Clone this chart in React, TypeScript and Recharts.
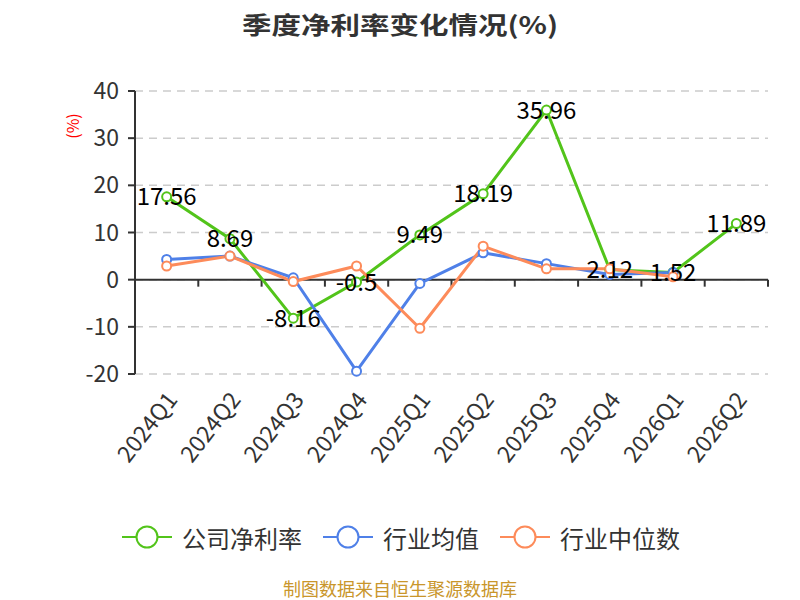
import { LineChart, Line, XAxis, YAxis, CartesianGrid, ReferenceLine, LabelList } from 'recharts';

// Quarterly net margin (%)
const quarters = ['2024Q1', '2024Q2', '2024Q3', '2024Q4', '2025Q1', '2025Q2', '2025Q3', '2025Q4', '2026Q1', '2026Q2'];
const companyMargin = [17.56, 8.69, -8.16, -0.5, 9.49, 18.19, 35.96, 2.12, 1.52, 11.89];
const industryAvg = [4.3, 5.0, 0.4, -19.4, -0.8, 5.7, 3.4, 1.1, 1.5, null];
const industryMedian = [2.9, 5.0, -0.4, 2.9, -10.3, 7.1, 2.3, 2.3, 0.6, null];
const yTicks = [-20, -10, 0, 10, 20, 30, 40];

const data = quarters.map((q, i) => ({
  q,
  company: companyMargin[i],
  avg: industryAvg[i],
  median: industryMedian[i],
}));

const GREEN = '#52c41a';
const BLUE = '#4f80e8';
const ORANGE = '#fd8b5a';
const FONT = '"Noto Sans CJK SC", "Noto Sans", sans-serif';

const legendItems = [
  { name: '公司净利率', color: GREEN },
  { name: '行业均值', color: BLUE },
  { name: '行业中位数', color: ORANGE },
];

function XTick({ x, y, payload }: any) {
  const ty = y + 12;
  return (
    <text
      x={x + 4}
      y={ty}
      transform={`rotate(-52, ${x + 4}, ${ty})`}
      textAnchor="end"
      dominantBaseline="central"
      fontSize={23}
      fill="#333"
      fontFamily={FONT}
    >
      {payload.value}
    </text>
  );
}

// zero line with the category ticks hanging below it
function ZeroAxis({ x1, y1, x2 }: any) {
  const step = (x2 - x1) / quarters.length;
  return (
    <g>
      <line x1={x1} y1={y1} x2={x2} y2={y1} stroke="#333" strokeWidth={2} />
      {quarters.map((_, i) => (
        <line key={i} x1={x1 + step * (i + 1)} y1={y1} x2={x1 + step * (i + 1)} y2={y1 + 7} stroke="#333" strokeWidth={2} />
      ))}
    </g>
  );
}

function PointLabel({ x, y, value }: any) {
  return (
    <text x={x} y={y - 2} textAnchor="middle" dominantBaseline="central" fontSize={24} fill="#000" fontFamily={FONT}>
      {value}
    </text>
  );
}

const dot = (color: string) => ({ r: 4.5, fill: '#fff', stroke: color, strokeWidth: 2 });

export default function App() {
  return (
    <div style={{ position: 'absolute', left: 0, top: 0, width: 800, height: 600, background: '#fff', fontFamily: FONT }}>
      <div
        style={{
          position: 'absolute',
          top: 2,
          width: 800,
          textAlign: 'center',
          fontSize: 29.5,
          fontWeight: 'bold',
          color: '#333',
          whiteSpace: 'nowrap',
          transform: 'scaleY(0.82)',
        }}
      >
        季度净利率变化情况(%)
      </div>
      <div
        style={{
          position: 'absolute',
          left: 72,
          top: 126,
          transform: 'translate(-50%, -50%) rotate(-90deg)',
          color: 'red',
          fontSize: 16,
        }}
      >
        (%)
      </div>
      <LineChart width={800} height={600} data={data} margin={{ top: 91, right: 32, bottom: 0, left: 0 }}>
        <CartesianGrid vertical={false} stroke="#ccc" strokeDasharray="8 6" strokeWidth={1.5} />
        <XAxis dataKey="q" scale="band" height={226} axisLine={false} tickLine={false} interval={0} tick={<XTick />} />
        <YAxis
          width={135}
          domain={[-20, 40]}
          ticks={yTicks}
          interval={0}
          stroke="#333"
          axisLine={{ stroke: '#333', strokeWidth: 2 }}
          tickLine={{ stroke: '#333', strokeWidth: 2 }}
          tickSize={7}
          tickMargin={9}
          tick={{ fontSize: 23, fill: '#333', fontFamily: FONT }}
        />
        <ReferenceLine y={0} shape={<ZeroAxis />} />
        <Line dataKey="company" stroke={GREEN} strokeWidth={3} dot={dot(GREEN)} isAnimationActive={false}>
          <LabelList dataKey="company" content={<PointLabel />} />
        </Line>
        <Line dataKey="avg" stroke={BLUE} strokeWidth={3} dot={dot(BLUE)} isAnimationActive={false} />
        <Line dataKey="median" stroke={ORANGE} strokeWidth={3} dot={dot(ORANGE)} isAnimationActive={false} />
      </LineChart>
      <div style={{ position: 'absolute', top: 520, left: 122, display: 'flex', gap: 21, whiteSpace: 'nowrap' }}>
        {legendItems.map((it) => (
          <div key={it.name} style={{ display: 'flex', alignItems: 'center', fontSize: 24, color: '#333', height: 34 }}>
            <svg width={50} height={26} style={{ marginRight: 10 }}>
              <line x1={0} y1={13} x2={50} y2={13} stroke={it.color} strokeWidth={2} />
              <circle cx={25} cy={13} r={10.5} fill="#fff" stroke={it.color} strokeWidth={2} />
            </svg>
            {it.name}
          </div>
        ))}
      </div>
      <div style={{ position: 'absolute', top: 575, width: 800, textAlign: 'center', fontSize: 18, color: '#c9962b', whiteSpace: 'nowrap' }}>
        制图数据来自恒生聚源数据库
      </div>
    </div>
  );
}
